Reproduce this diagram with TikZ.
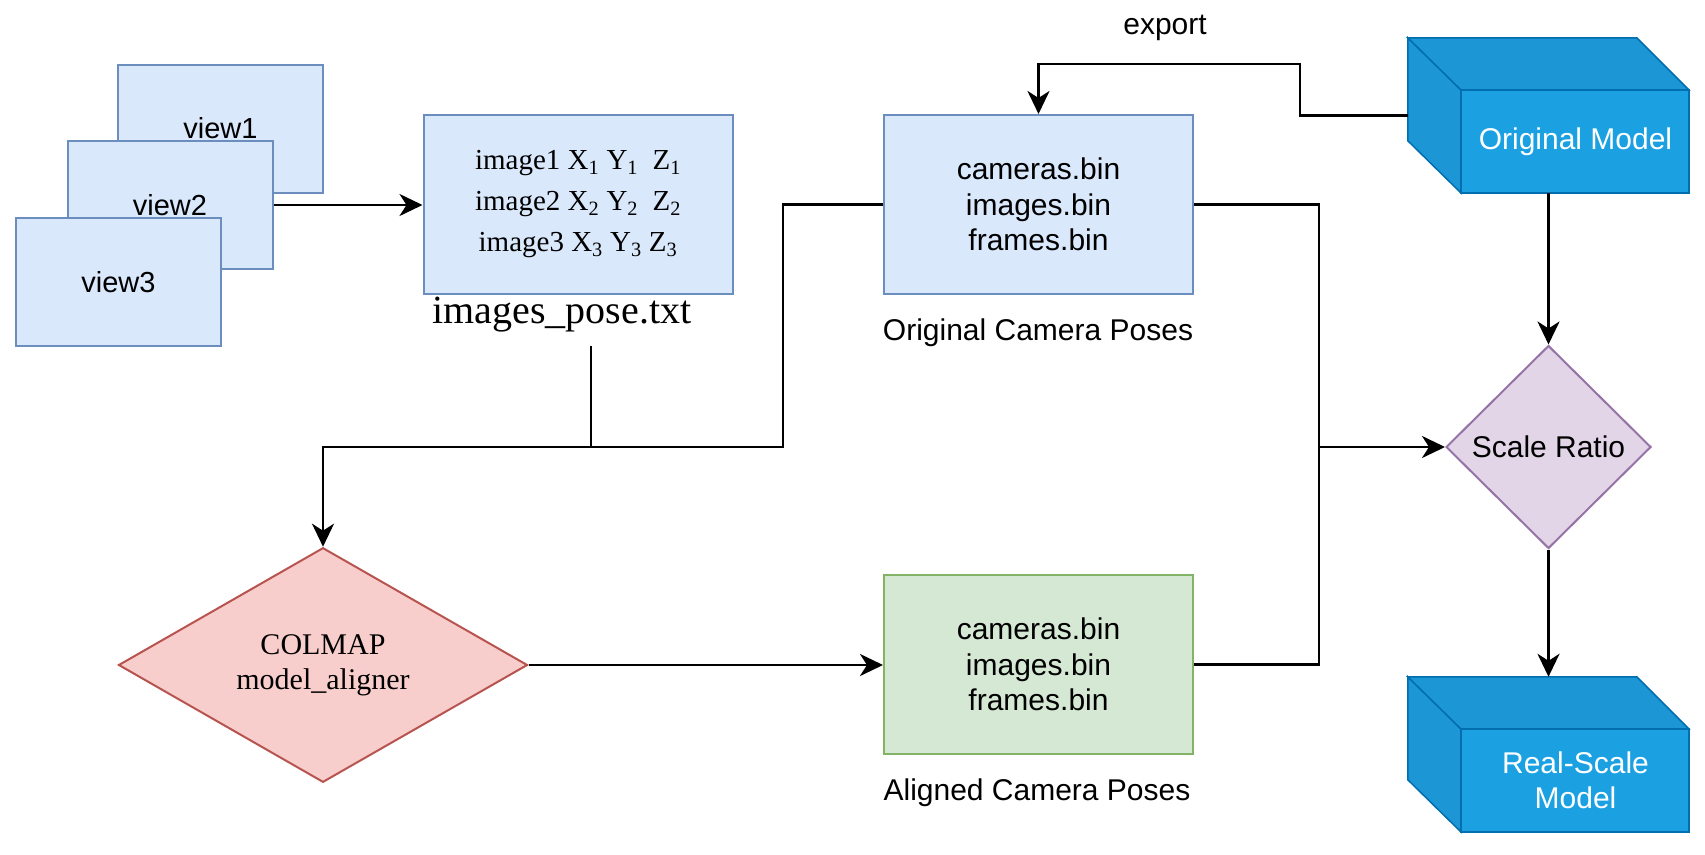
\documentclass[tikz,border=0pt]{standalone}
\usepackage{fontspec}
\setmainfont{Liberation Sans}
\newfontfamily\timesfont{Liberation Serif}
\usetikzlibrary{shapes.geometric,arrows.meta}
\definecolor{posefill}{HTML}{DAE8FC}
\definecolor{poseline}{HTML}{6C8EBF}
\definecolor{alignfill}{HTML}{D5E8D4}
\definecolor{alignline}{HTML}{82B366}
\definecolor{colmapfill}{HTML}{F8CECC}
\definecolor{colmapline}{HTML}{B85450}
\definecolor{ratiofill}{HTML}{E1D5E7}
\definecolor{ratioline}{HTML}{9673A6}
\definecolor{cubefront}{HTML}{1BA1E2}
\definecolor{cubeshade}{HTML}{1C96D4}
\definecolor{cubeline}{HTML}{006EAF}
\newcommand{\bigtext}{\fontsize{30}{35.5}\selectfont}
\newcommand{\modelcube}[3]
{   \node[minimum width=281pt, minimum height=155pt, inner sep=0pt] (#1) at (#2) {};
    \filldraw[fill=cubeshade, draw=cubeline, line width=1.5pt] (#1.north west) -- ++(53,52) -- ++(0,103) -- ++(-53,-52) -- cycle;
    \filldraw[fill=cubeshade, draw=cubeline, line width=1.5pt] (#1.north west) -- ++(53,52) -- ++(228,0) -- ++(-52,-52) -- cycle;
    \filldraw[fill=cubefront, draw=cubeline, line width=1.5pt] ([shift={(53,52)}]#1.north west) rectangle (#1.south east);
    \node[text=white, align=center, font=\bigtext] (#1text) at ([shift={(27,26)}]#1.center) {#3};
}

\begin{document}
\begin{tikzpicture}[x=1pt, y=-1pt,
    view/.style={rectangle, draw=poseline, fill=posefill, line width=2pt, minimum width=205pt, minimum height=128pt, inner sep=0pt, font=\fontsize{29}{35}\selectfont},
    binbox/.style={rectangle, line width=2pt, minimum width=309pt, minimum height=179pt, inner sep=0pt, align=center, font=\bigtext},
    choice/.style={diamond, line width=2pt, inner sep=0pt, align=center},
    link/.style={line width=2.8pt},
    arr/.style={-{Stealth[length=23pt, width=22pt, inset=7pt]}, line width=2.8pt}]

   \useasboundingbox (0,0) rectangle (1705,854);

   \node[view] (view1) at (220.5,128.5) {view1};
   \node[view] (view2) at (170,205) {view2};
   \node[view] (view3) at (118.5,282) {view3};

   \node[binbox, draw=poseline, fill=posefill, font=\timesfont\fontsize{29}{41}\selectfont] (pose) at (578,204)
      {image1 X\textsubscript{1} Y\textsubscript{1}\ \ Z\textsubscript{1}\\
       image2 X\textsubscript{2} Y\textsubscript{2}\ \ Z\textsubscript{2}\\
       image3 X\textsubscript{3} Y\textsubscript{3} Z\textsubscript{3}};
   \node[font=\timesfont\fontsize{40}{48}\selectfont] (posename) at (562,315) {images\_pose.txt};

   \node[binbox, draw=poseline, fill=posefill] (orig) at (1038.5,204.5) {cameras.bin\\images.bin\\frames.bin};
   \node[font=\bigtext] (origname) at (1038,333) {Original Camera Poses};
   \node[font=\bigtext] (exportname) at (1165,28) {export};

   \node[binbox, draw=alignline, fill=alignfill] (aligned) at (1038.5,664.5) {cameras.bin\\images.bin\\frames.bin};
   \node[font=\bigtext] (alignname) at (1037,793) {Aligned Camera Poses};

   \node[choice, draw=colmapline, fill=colmapfill, minimum width=409pt, minimum height=229pt,
      font=\timesfont\fontsize{30}{35}\selectfont] (colmap) at (323,665) {COLMAP\\model\_aligner};
   \node[choice, draw=ratioline, fill=ratiofill, minimum width=205pt, minimum height=203pt,
      font=\bigtext] (ratio) at (1548.5,447) {Scale Ratio};

   \modelcube{om}{1548.5,115.5}{Original Model}
   \modelcube{rs}{1548.5,754.5}{Real-Scale\\Model}

   \coordinate (exportbend) at (1300,64);
   \coordinate (poseout) at (591,346);
   \coordinate (split) at (783,447);
   \coordinate (merge) at (1319,447);

   \draw[arr] (view2.east) -- (view2.east -| pose.west);
   \draw[arr] (om.west) -| (exportbend) -| (orig.north);
   \draw[link] (poseout) -- (poseout |- split);
   \draw[arr] (orig.west) -| (split) -| (colmap.north);
   \draw[arr] (colmap.east) -- (colmap.east -| aligned.west);
   \draw[link] (orig.east) -| (merge);
   \draw[link] (aligned.east) -| (merge);
   \draw[arr] (merge) -- (ratio.west);
   \draw[arr] (om.south) -- (ratio.north);
   \draw[arr] (ratio.south) -- (rs.north);

\end{tikzpicture}
\end{document}
